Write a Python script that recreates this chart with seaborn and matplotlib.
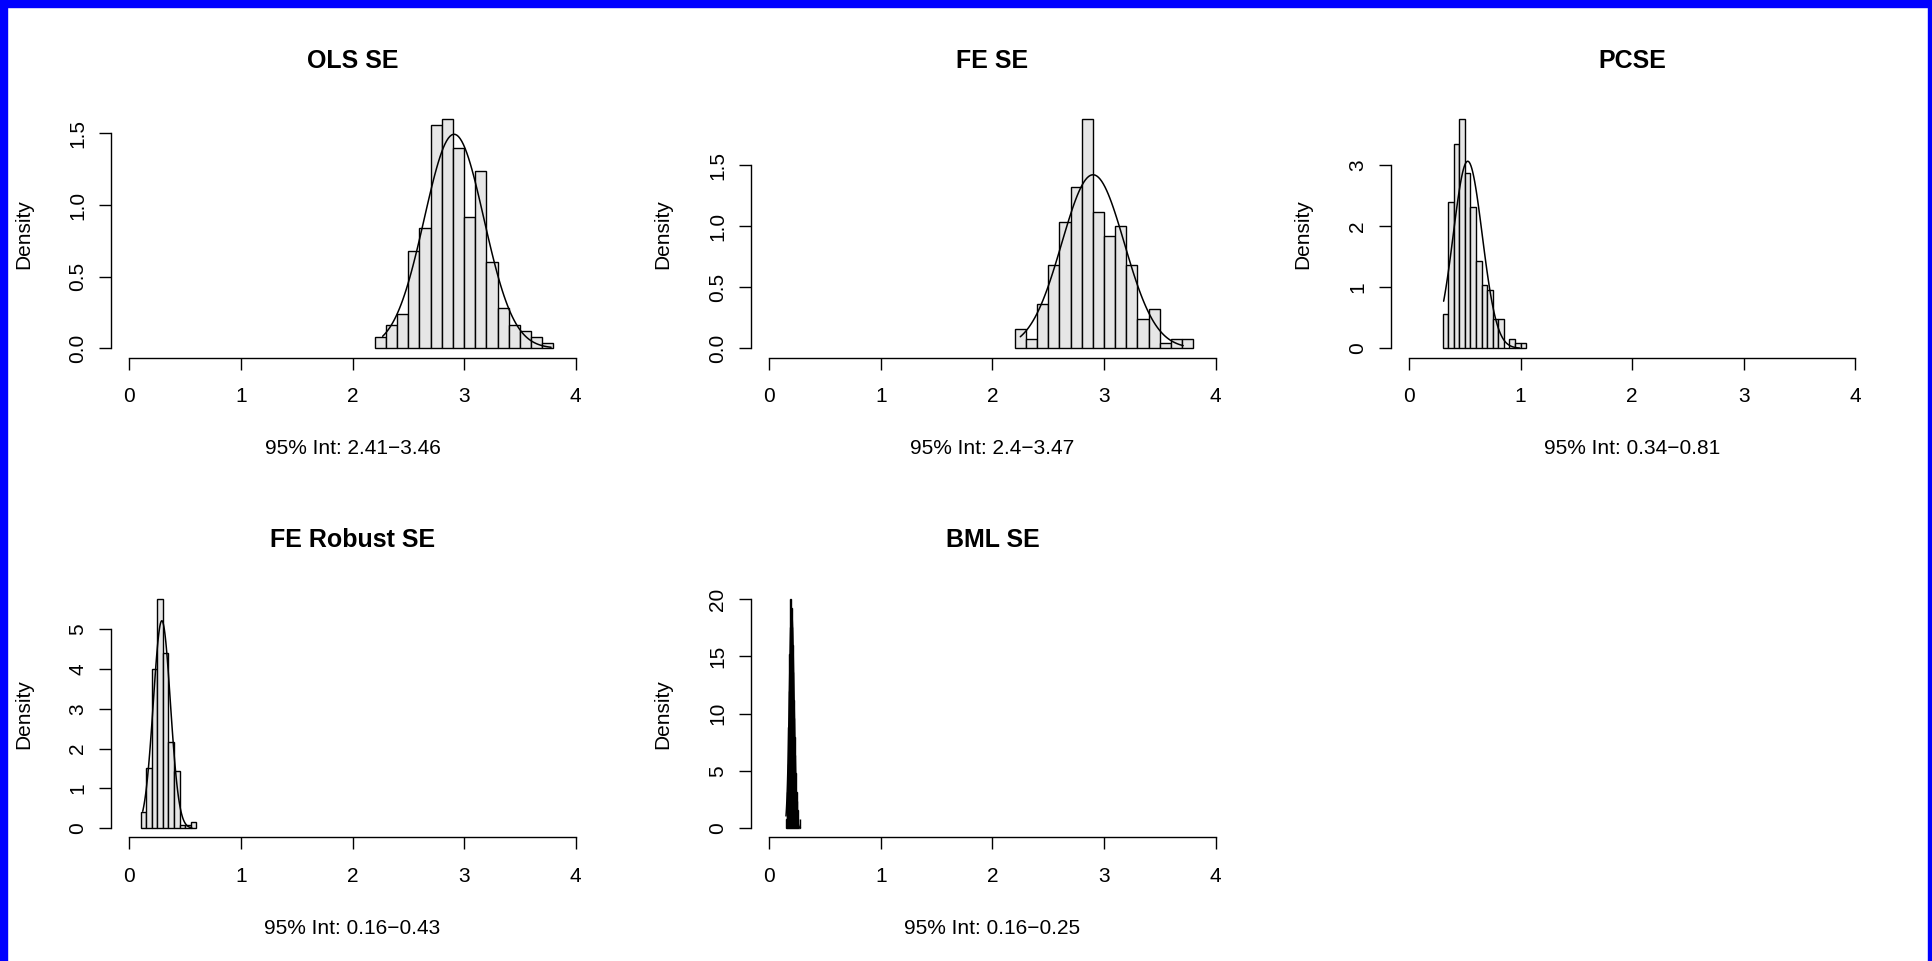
import numpy as np
import pandas as pd
import matplotlib
matplotlib.use("Agg")
import matplotlib.pyplot as plt
from matplotlib.patches import Rectangle
import seaborn as sns

# histogram bins: left edge, bin width, counts per bin (n = 250)
ols_start, ols_width = 2.2, 0.1
ols_counts = [2, 4, 6, 17, 21, 39, 40, 35, 23, 31, 15, 7, 4, 3, 2, 1]

fe_start, fe_width = 2.2, 0.1
fe_counts = [4, 2, 9, 17, 26, 33, 47, 28, 23, 25, 17, 6, 8, 1, 2, 2]

pcse_start, pcse_width = 0.3, 0.05
pcse_counts = [7, 30, 42, 47, 36, 29, 18, 13, 12, 6, 6, 0, 2, 1, 1]

rob_start, rob_width = 0.1, 0.05
rob_counts = [5, 19, 50, 72, 55, 27, 18, 1, 1, 2]

bml_start, bml_width = 0.15, 0.005
bml_counts = [1, 2, 4, 7, 11, 15, 19, 22, 25, 24, 22, 20, 17, 14, 12, 10,
              8, 6, 4, 3, 2, 1, 0, 0, 0, 1]

# x range over which the normal curve is drawn (min / max of the draws)
ols_curve = (2.27, 3.78)
fe_curve = (2.25, 3.71)
pcse_curve = (0.31, 0.99)
rob_curve = (0.12, 0.56)
bml_curve = (0.15, 0.28)

titles = ["OLS SE", "FE SE", "PCSE", "FE Robust SE", "BML SE"]
intervals = ["95% Int: 2.41\u22123.46", "95% Int: 2.4\u22123.47", "95% Int: 0.34\u22120.81",
             "95% Int: 0.16\u22120.43", "95% Int: 0.16\u22120.25"]
x_ticks = [0, 1, 2, 3, 4]
ols_yticks = [0, 0.5, 1.0, 1.5]
fe_yticks = [0, 0.5, 1.0, 1.5]
pcse_yticks = [0, 1, 2, 3]
rob_yticks = [0, 1, 2, 3, 4, 5]
bml_yticks = [0, 5, 10, 15, 20]

sns.set_style("ticks")
plt.rcParams["font.family"] = ["Liberation Sans", "DejaVu Sans"]
for key in ["text.color", "axes.labelcolor", "xtick.color", "ytick.color", "axes.edgecolor"]:
    plt.rcParams[key] = "black"


def draw_panel(ax, start, width, counts, curve_range, title, interval, yticks, one_decimal):
    counts = np.array(counts, dtype=float)
    edges = start + width * np.arange(len(counts) + 1)
    mids = edges[:-1] + width / 2
    df = pd.DataFrame({"mid": mids, "n": counts})
    sns.histplot(data=df, x="mid", weights="n", bins=[float(e) for e in edges], stat="density",
                 color="#E6E6E6", edgecolor="black", linewidth=1.0, alpha=1, ax=ax)

    # normal curve with mean / sd of the draws
    mu = np.average(mids, weights=counts)
    sd = np.sqrt(np.average((mids - mu) ** 2, weights=counts) * counts.sum() / (counts.sum() - 1))
    xs = np.linspace(curve_range[0], curve_range[1], 101)
    dens = np.exp(-0.5 * ((xs - mu) / sd) ** 2) / (sd * np.sqrt(2 * np.pi))
    sns.lineplot(x=xs, y=dens, color="black", linewidth=1.1, ax=ax)

    ymax = counts.max() / (counts.sum() * width)
    ax.set_xlim(-0.16, 4.16)
    ax.set_ylim(-0.04 * ymax, 1.04 * ymax)

    ax.spines[["top", "right"]].set_visible(False)
    ax.spines["bottom"].set_bounds(0, 4)
    ax.spines["left"].set_bounds(0, yticks[-1])
    for s in ["bottom", "left"]:
        ax.spines[s].set_linewidth(1.0)

    ax.set_xticks(x_ticks)
    ax.set_xticklabels([str(t) for t in x_ticks])
    ax.set_yticks(yticks)
    ax.set_yticklabels([f"{t:.1f}" if one_decimal else str(int(t)) for t in yticks])
    ax.tick_params(direction="out", length=8.4, width=1.0, labelsize=15)
    ax.tick_params(axis="x", pad=13)
    ax.tick_params(axis="y", pad=9, labelrotation=90)
    for lab in ax.get_yticklabels():
        lab.set_va("center")

    ax.set_xlabel(interval, fontsize=15, va="center")
    ax.xaxis.set_label_coords(0.5, -0.367)
    ax.set_ylabel("Density", fontsize=15, va="center")
    ax.yaxis.set_label_coords(-0.183, 0.5)
    ax.set_title(title, fontsize=18, fontweight="bold", y=1.2, pad=0, va="center")


fig = plt.figure(figsize=(19.33, 9.61), dpi=100)
fig.patch.set_facecolor("white")

W, H = 1933, 961
col_left = [111.5, 751.4, 1391.2]
row_bottom = [357.5, 837.4]
aw, ah = 482.0, 247.5

panels = [
    (ols_start, ols_width, ols_counts, ols_curve, ols_yticks, True),
    (fe_start, fe_width, fe_counts, fe_curve, fe_yticks, True),
    (pcse_start, pcse_width, pcse_counts, pcse_curve, pcse_yticks, False),
    (rob_start, rob_width, rob_counts, rob_curve, rob_yticks, False),
    (bml_start, bml_width, bml_counts, bml_curve, bml_yticks, False),
]

for i, (start, width, counts, crange, yt, dec) in enumerate(panels):
    r, c = divmod(i, 3)
    ax = fig.add_axes([col_left[c] / W, (H - row_bottom[r]) / H, aw / W, ah / H])
    ax.set_facecolor("white")
    draw_panel(ax, start, width, counts, crange, titles[i], intervals[i], yt, dec)

# blue frame around the picture (left, top, right)
fig.patches.append(Rectangle((0, 0), 7 / W, 1, transform=fig.transFigure, color="#0000FF", zorder=10))
fig.patches.append(Rectangle((0, 1 - 7 / H), 1, 7 / H, transform=fig.transFigure, color="#0000FF", zorder=10))
fig.patches.append(Rectangle((1 - 5 / W, 0), 5 / W, 1, transform=fig.transFigure, color="#0000FF", zorder=10))

fig.savefig("out.png", dpi=100)
